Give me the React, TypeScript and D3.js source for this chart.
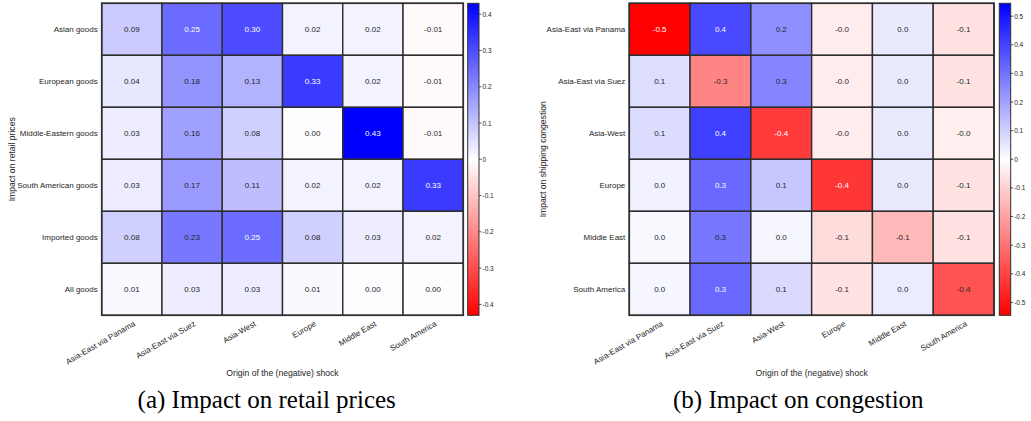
import React from "react";
import * as d3 from "d3";

// Shock origins (columns of both heatmaps, rows of the congestion heatmap)
const originLabels = [
  "Asia-East via Panama",
  "Asia-East via Suez",
  "Asia-West",
  "Europe",
  "Middle East",
  "South America",
];

// Retail price impact, one row per goods category
const goodsLabels = [
  "Asian goods",
  "European goods",
  "Middle-Eastern goods",
  "South American goods",
  "Imported goods",
  "All goods",
];
const asianGoods = [0.09, 0.25, 0.3, 0.02, 0.02, -0.01];
const europeanGoods = [0.04, 0.18, 0.13, 0.33, 0.02, -0.01];
const middleEasternGoods = [0.03, 0.16, 0.08, 0.004, 0.43, -0.01];
const southAmericanGoods = [0.03, 0.17, 0.11, 0.02, 0.02, 0.33];
const importedGoods = [0.08, 0.23, 0.25, 0.08, 0.03, 0.02];
const allGoods = [0.01, 0.03, 0.03, 0.01, 0.004, 0.004];
const priceRows = [asianGoods, europeanGoods, middleEasternGoods, southAmericanGoods, importedGoods, allGoods];
const priceTicks = [-0.4, -0.3, -0.2, -0.1, 0, 0.1, 0.2, 0.3, 0.4];

// Shipping congestion impact, one row per route
const congestionPanama = [-0.545, 0.39, 0.24, -0.04, 0.045, -0.065];
const congestionSuez = [0.07, -0.26, 0.26, -0.04, 0.045, -0.06];
const congestionAsiaWest = [0.075, 0.41, -0.42, -0.04, 0.045, -0.035];
const congestionEurope = [0.03, 0.32, 0.12, -0.43, 0.045, -0.06];
const congestionMiddleEast = [0.015, 0.29, 0.02, -0.075, -0.15, -0.065];
const congestionSouthAmerica = [0.02, 0.32, 0.08, -0.06, 0.04, -0.37];
const congestionRows = [
  congestionPanama,
  congestionSuez,
  congestionAsiaWest,
  congestionEurope,
  congestionMiddleEast,
  congestionSouthAmerica,
];
const congestionTicks = [-0.5, -0.4, -0.3, -0.2, -0.1, 0, 0.1, 0.2, 0.3, 0.4, 0.5];

const SANS = "'Liberation Sans', Arial, sans-serif";
const SERIF = "'Liberation Serif', 'Times New Roman', serif";

const TOP = 3.3;
const BOTTOM = 315.3;

type PanelProps = {
  id: string;
  rows: number[][];
  rowLabels: string[];
  colLabels: string[];
  ticks: number[];
  decimals: number;
  gridX0: number;
  gridX1: number;
  barX0: number;
  barX1: number;
  yTitle: string;
  yTitleX: number;
  caption: string;
  captionX: number;
};

function tickText(v: number) {
  if (Math.abs(v) < 1e-9) return "0";
  return (Math.round(v * 10) / 10).toString();
}

function Panel(p: PanelProps) {
  const vmax = d3.max(p.rows.flat(), (v) => Math.abs(v)) as number;
  const color = d3
    .scaleLinear<string>()
    .domain([-vmax, 0, vmax])
    .range(["#ff0000", "#ffffff", "#0000ff"])
    .interpolate(d3.interpolateRgb);
  const x = d3.scaleBand<string>().domain(p.colLabels).range([p.gridX0, p.gridX1]);
  const y = d3.scaleBand<string>().domain(p.rowLabels).range([TOP, BOTTOM]);
  const barY = d3.scaleLinear().domain([-vmax, vmax]).range([BOTTOM, TOP]);

  const textColor = (v: number) => {
    const c = d3.rgb(color(v));
    const lum = 0.299 * c.r + 0.587 * c.g + 0.114 * c.b;
    return lum < 127.5 ? "#ffffff" : "#262626";
  };

  const gradId = `grad-${p.id}`;
  const gridCx = (p.gridX0 + p.gridX1) / 2;
  const gridCy = (TOP + BOTTOM) / 2;

  return (
    <g>
      <defs>
        <linearGradient id={gradId} x1="0" y1="1" x2="0" y2="0">
          {d3.range(0, 1.0001, 0.05).map((t) => (
            <stop key={t} offset={t} stopColor={color(-vmax + 2 * vmax * t)} />
          ))}
        </linearGradient>
      </defs>

      {p.rows.map((row, i) =>
        row.map((v, j) => (
          <g key={`${i}-${j}`}>
            <rect
              x={x(p.colLabels[j])}
              y={y(p.rowLabels[i])}
              width={x.bandwidth()}
              height={y.bandwidth()}
              fill={color(v)}
              stroke="#2e2e2e"
              strokeWidth={1.4}
            />
            <text
              x={(x(p.colLabels[j]) as number) + x.bandwidth() / 2}
              y={(y(p.rowLabels[i]) as number) + y.bandwidth() / 2}
              textAnchor="middle"
              dominantBaseline="central"
              fontFamily={SANS}
              fontSize={8}
              fill={textColor(v)}
            >
              {v.toFixed(p.decimals)}
            </text>
          </g>
        ))
      )}
      <rect
        x={p.gridX0}
        y={TOP}
        width={p.gridX1 - p.gridX0}
        height={BOTTOM - TOP}
        fill="none"
        stroke="#2e2e2e"
        strokeWidth={1.6}
      />

      {p.rowLabels.map((r) => (
        <text
          key={r}
          x={p.gridX0 - 4}
          y={(y(r) as number) + y.bandwidth() / 2}
          textAnchor="end"
          dominantBaseline="central"
          fontFamily={SANS}
          fontSize={8}
          fill="#262626"
        >
          {r}
        </text>
      ))}

      {p.colLabels.map((c) => {
        const ax = (x(c) as number) + x.bandwidth() / 2 + 4;
        const ay = BOTTOM + 10;
        return (
          <text
            key={c}
            x={ax}
            y={ay}
            textAnchor="end"
            transform={`rotate(-30, ${ax}, ${ay})`}
            fontFamily={SANS}
            fontSize={8}
            fill="#262626"
          >
            {c}
          </text>
        );
      })}

      <text
        x={gridCx}
        y={372.5}
        textAnchor="middle"
        dominantBaseline="central"
        fontFamily={SANS}
        fontSize={8.6}
        fill="#262626"
      >
        Origin of the (negative) shock
      </text>
      <text
        transform={`translate(${p.yTitleX}, ${gridCy}) rotate(-90)`}
        textAnchor="middle"
        dominantBaseline="central"
        fontFamily={SANS}
        fontSize={8.6}
        fill="#262626"
      >
        {p.yTitle}
      </text>

      <rect
        x={p.barX0}
        y={TOP}
        width={p.barX1 - p.barX0}
        height={BOTTOM - TOP}
        fill={`url(#${gradId})`}
        stroke="#2e2e2e"
        strokeWidth={1}
      />
      {p.ticks.map((t) => (
        <g key={t}>
          <line
            x1={p.barX1}
            x2={p.barX1 + 2.5}
            y1={barY(t)}
            y2={barY(t)}
            stroke="#2e2e2e"
            strokeWidth={0.8}
          />
          <text
            x={p.barX1 + 3.5}
            y={barY(t)}
            dominantBaseline="central"
            fontFamily={SANS}
            fontSize={6.5}
            fill="#262626"
          >
            {tickText(t)}
          </text>
        </g>
      ))}

      <text
        x={p.captionX}
        y={407.5}
        textAnchor="middle"
        fontFamily={SERIF}
        fontSize={25}
        fill="#000"
      >
        {p.caption}
      </text>
    </g>
  );
}

export default function App() {
  return (
    <svg
      width={1031}
      height={421}
      viewBox="0 0 1031 421"
      style={{ position: "absolute", left: 0, top: 0, background: "#fff" }}
    >
      <rect width={1031} height={421} fill="#fff" />
      <Panel
        id="prices"
        rows={priceRows}
        rowLabels={goodsLabels}
        colLabels={originLabels}
        ticks={priceTicks}
        decimals={2}
        gridX0={101.7}
        gridX1={463.3}
        barX0={467.7}
        barX1={479}
        yTitle="Impact on retail prices"
        yTitleX={12}
        caption="(a) Impact on retail prices"
        captionX={266.7}
      />
      <Panel
        id="congestion"
        rows={congestionRows}
        rowLabels={originLabels}
        colLabels={originLabels}
        ticks={congestionTicks}
        decimals={1}
        gridX0={629.3}
        gridX1={994}
        barX0={999.3}
        barX1={1010.7}
        yTitle="Impact on shipping congestion"
        yTitleX={543.3}
        caption="(b) Impact on congestion"
        captionX={798.3}
      />
    </svg>
  );
}
